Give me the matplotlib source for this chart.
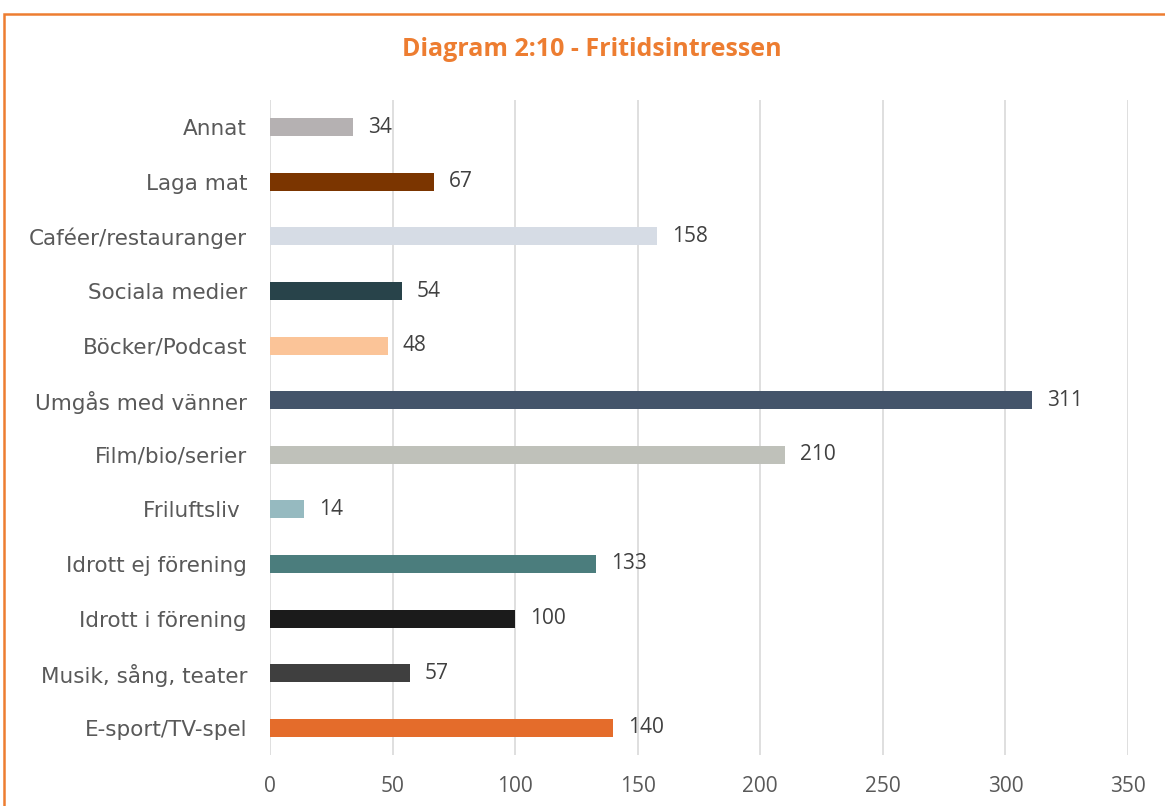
import matplotlib.pyplot as plt
from matplotlib.patches import Rectangle

categories = ["E-sport/TV-spel", "Musik, sång, teater", "Idrott i förening",
              "Idrott ej förening", "Friluftsliv ", "Film/bio/serier",
              "Umgås med vänner", "Böcker/Podcast", "Sociala medier",
              "Caféer/restauranger", "Laga mat", "Annat"]
values = [140, 57, 100, 133, 14, 210, 311, 48, 54, 158, 67, 34]
colors = ["#E46C2B", "#3F3F3F", "#1B1B1B", "#4B7D7D", "#96BAC0", "#BFC1BA",
          "#44546A", "#FBC498", "#28434A", "#D6DCE5", "#7B3500", "#B5B1B2"]
xticks = [0, 50, 100, 150, 200, 250, 300, 350]

fig = plt.figure(figsize=(11.65, 8.06), dpi=100)
ax = fig.add_axes([270/1165, 1-755/806, 858/1165, 655/806])

# orange frame (only top and left visible in the crop)
fig.patches.append(Rectangle((4/1165, -0.1), 1.2, 1-14/806+0.1, transform=fig.transFigure,
                             fill=False, edgecolor="#ED7D31", linewidth=1.8))

ypos = list(range(len(categories)))
ax.barh(ypos, values, height=0.33, color=colors, zorder=2)

for y, v in zip(ypos, values):
    ax.text(v + 6, y, str(v), va="center", ha="left", fontsize=15,
            family="Open Sans", color="#404040")

ax.set_xlim(0, 350)
ax.set_ylim(-0.5, len(categories) - 0.5)
ax.set_yticks(ypos)
ax.set_yticklabels(categories, fontsize=15.5, family="DejaVu Sans", color="#595959")
ax.set_xticks(xticks)
ax.set_xticklabels([str(t) for t in xticks], fontsize=15, family="Open Sans", color="#595959")
ax.tick_params(axis="both", length=0)
ax.tick_params(axis="y", pad=16.5)
ax.tick_params(axis="x", pad=15)
ax.grid(axis="x", color="#D9D9D9", linewidth=1.2, zorder=0)
for s in ax.spines.values():
    s.set_visible(False)

fig.text(592/1165, 1-50/806, "Diagram 2:10 - Fritidsintressen", ha="center", va="center",
         fontsize=18, fontweight="bold", family="Open Sans", color="#ED7D31")

fig.savefig("out.png", dpi=100)
